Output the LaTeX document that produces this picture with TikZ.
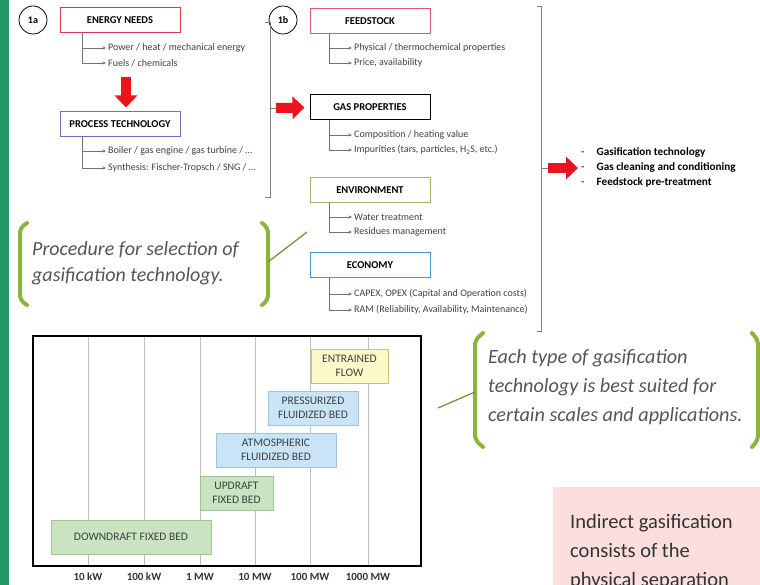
\documentclass[tikz,border=0pt]{standalone}
\usepackage{fontspec}
\setmainfont{Carlito}
\usetikzlibrary{positioning,calc,arrows,arrows.meta}
\definecolor{stripgreen}{RGB}{38,152,104}
\definecolor{needsred}{RGB}{214,60,80}
\definecolor{feedred}{RGB}{226,90,110}
\definecolor{procpurple}{RGB}{130,100,190}
\definecolor{envgreen}{RGB}{170,180,100}
\definecolor{ecoblue}{RGB}{70,150,205}
\definecolor{arrowred}{RGB}{235,20,30}
\definecolor{bracegreen}{RGB}{140,180,60}
\definecolor{linegreen}{RGB}{110,150,60}
\definecolor{notegray}{RGB}{85,85,85}
\definecolor{pinkfill}{RGB}{252,222,222}
\definecolor{flowyellow}{RGB}{253,248,200}
\definecolor{flowedge}{RGB}{200,190,140}
\definecolor{bedblue}{RGB}{200,228,246}
\definecolor{bluedge}{RGB}{160,195,220}
\definecolor{bedgreen}{RGB}{200,228,192}
\definecolor{greenedge}{RGB}{160,195,150}

\begin{document}
\begin{tikzpicture}[x=1pt,y=-1pt,>=stealth',
    main node/.style={draw,line width=1pt,minimum width=120,minimum height=25,inner sep=2pt,
      font=\fontsize{10.5}{11}\selectfont\bfseries},
    tag node/.style={circle,draw,line width=0.8pt,minimum size=28,inner sep=0pt,
      font=\fontsize{10}{11}\selectfont\bfseries},
    item node/.style={anchor=west,inner sep=2pt,text=black!75,font=\fontsize{10}{11}\selectfont},
    branch/.style={draw=black!55,line width=0.6pt,-{Stealth[length=3.5pt,width=3pt]}},
    bracket/.style={draw=black!50,line width=0.7pt},
    bigarrow/.style={draw=arrowred,line width=10pt,-{Triangle[length=12pt,width=22pt]}},
    note node/.style={anchor=west,align=left,inner sep=0pt,text=notegray,
      font=\fontsize{20}{26}\selectfont\itshape},
    green brace/.style={draw=bracegreen,line width=4pt,line cap=round,rounded corners=5},
    green line/.style={draw=linegreen,line width=1.3pt},
    grid line/.style={draw=black!25,line width=0.5pt},
    bar node/.style={draw,line width=0.7pt,minimum height=34,inner sep=1pt,align=center,
      text=black!75,font=\fontsize{11.5}{14}\selectfont},
    axis node/.style={text=black!80,font=\fontsize{11}{12}\selectfont\bfseries}]
    \useasboundingbox (0,0) rectangle (760,585);
    \clip (0,0) rectangle (760,585);
    \fill[stripgreen] (0,0) rectangle (9,585);
    % nodes 1a
      \node[tag node] (t1a) at (33,20) {1a};
      \node[main node,draw=needsred] (en) at (120,20.5) {ENERGY NEEDS};
      \node[item node] (en1) at (106,48) {Power / heat / mechanical energy};
      \node[item node] (en2) at (106,63) {Fuels / chemicals};
      \node[main node,draw=procpurple] (pt) at (120,124.5) {PROCESS TECHNOLOGY};
      \node[item node] (pt1) at (106,151) {Boiler / gas engine / gas turbine / \dots};
      \node[item node] (pt2) at (106,168) {Synthesis: Fischer-Tropsch / SNG / \dots};
    % nodes 1b
      \node[tag node] (t1b) at (283,20) {1b};
      \node[main node,draw=feedred] (fs) at (370,21.5) {FEEDSTOCK};
      \node[item node] (fs1) at (352,48) {Physical / thermochemical properties};
      \node[item node] (fs2) at (352,63) {Price, availability};
      \node[main node,draw=black] (gp) at (370,107.5) {GAS PROPERTIES};
      \node[item node] (gp1) at (352,135) {Composition / heating value};
      \node[item node] (gp2) at (352,150) {Impurities (tars, particles, H\textsubscript{2}S, etc.)};
      \node[main node,draw=envgreen] (env) at (370,190) {ENVIRONMENT};
      \node[item node] (env1) at (352,217) {Water treatment};
      \node[item node] (env2) at (352,232) {Residues management};
      \node[main node,draw=ecoblue] (eco) at (370,265.5) {ECONOMY};
      \node[item node] (eco1) at (352,294) {CAPEX, OPEX (Capital and Operation costs)};
      \node[item node] (eco2) at (352,310) {RAM (Reliability, Availability, Maintenance)};
      \node[anchor=west,inner sep=0pt,font=\fontsize{11.2}{15}\selectfont] (out) at (581,168)
        {\begin{tabular}{@{}l@{\hspace{12pt}}l@{}}
          -&\textbf{Gasification technology}\\
          -&\textbf{Gas cleaning and conditioning}\\
          -&\textbf{Feedstock pre-treatment}
        \end{tabular}};
      %edges
      \foreach \m/\d in {en/23,pt/23,fs/20,gp/20,env/20,eco/20}
        {
        \draw[branch] ($(\m.south west)+(\d,0)$) |- (\m1);
        \draw[branch] ($(\m.south west)+(\d,0)$) |- (\m2);
        }
      \coordinate (d0) at (126,77);
      \draw[bigarrow,shorten >=4pt] (d0) -- (d0 |- pt.north);
      % brackets
      \draw[bracket] (265,22) -| (270,197) -- (265,197);
      \coordinate (b1) at (270,108);
      \draw[bracket] (b1) -- ++(6,0) coordinate (b1e);
      \draw[bigarrow,shorten >=5pt] (b1e) -- (gp.west);
      \draw[bracket] (537,6) -| (541,331) -- (537,331);
      \coordinate (b2) at (541,168);
      \draw[bracket] (b2) -- ++(7,0) coordinate (b2e);
      \draw[bigarrow,shorten >=3pt] (b2e) -- (out.west);
    % notes
      \node[note node] (proc) at (32,263) {Procedure for selection of\\gasification technology.};
      \draw[green brace] (27,223) -- (20,228) -- (20,300) -- (27,305);
      \draw[green brace] (262,223) -- (268,228) -- (268,300) -- (262,305);
      \coordinate (c1a) at (268,262);
      \coordinate (c1b) at (307,232);
      \draw[green line] (c1a) -- (c1b);
      \node[note node,font=\fontsize{20.2}{29}\selectfont\itshape] (scale) at (488,387)
        {Each type of gasification\\technology is best suited for\\certain scales and applications.};
      \draw[green brace] (483,333) -- (475,340) -- (475,440) -- (483,447);
      \draw[green brace] (752,333) -- (758,340) -- (758,440) -- (752,447);
      \coordinate (c2a) at (438,408);
      \coordinate (c2b) at (475,392);
      \draw[green line] (c2a) -- (c2b);
      \fill[pinkfill] (553,487) rectangle (770,600);
      \node[anchor=west,align=left,inner sep=0pt,text=black!80,font=\fontsize{20.5}{29}\selectfont] (ind)
        at (570,552) {Indirect gasification\\consists of the\\physical separation};
    % chart
      \foreach \x/\lab in {88/10 kW,144/100 kW,200/1 MW,255/10 MW,310/100 MW,368/1000 MW}
        {
        \draw[grid line] (\x,337) -- (\x,565);
        \node[axis node] (ax\x) at (\x,577) {\lab};
        }
      \node[bar node,fill=flowyellow,draw=flowedge,minimum width=77] (ef) at (349.5,366) {ENTRAINED\\FLOW};
      \node[bar node,fill=bedblue,draw=bluedge,minimum width=90] (pfb) at (313,408) {PRESSURIZED\\FLUIDIZED BED};
      \node[bar node,fill=bedblue,draw=bluedge,minimum width=120] (afb) at (276,450) {ATMOSPHERIC\\FLUIDIZED BED};
      \node[bar node,fill=bedgreen,draw=greenedge,minimum width=73] (ufb) at (236.5,493) {UPDRAFT\\FIXED BED};
      \node[bar node,fill=bedgreen,draw=greenedge,minimum width=160] (dfb) at (131,537) {DOWNDRAFT FIXED BED};
      \draw[line width=1.5pt] (33,336) rectangle (421,566);
    \end{tikzpicture}
\end{document}
